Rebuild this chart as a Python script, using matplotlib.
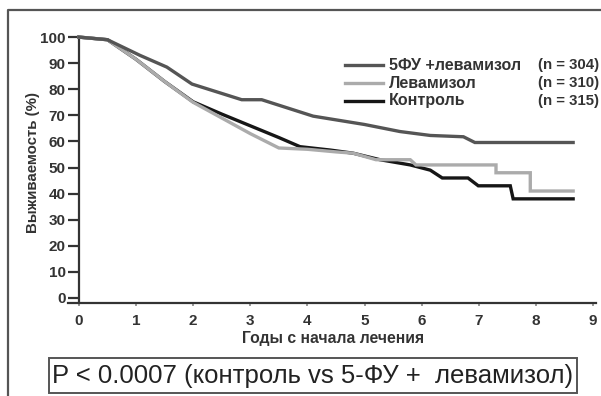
import matplotlib
matplotlib.use("Agg")
import matplotlib.pyplot as plt
from matplotlib.lines import Line2D
from matplotlib.patches import Rectangle

plt.rcParams['font.family'] = ['Liberation Sans', 'DejaVu Sans']

# Data (years, survival %)
fu_x = [0, 0.5, 1.07, 1.54, 1.98, 2.85, 3.2, 4.1, 5.0, 5.62, 6.15, 6.73, 6.93, 8.65]
fu_y = [100, 99, 93, 88.5, 82, 76, 76, 69.7, 66.5, 63.8, 62.3, 61.8, 59.6, 59.6]

lev_x = [0, 0.5, 1.0, 1.5, 2.0, 2.5, 3.0, 3.5, 4.0, 4.5, 4.8, 5.2, 5.8, 5.9, 7.3, 7.3, 7.9, 7.9, 8.65]
lev_y = [100, 99, 91.5, 83, 75, 69, 63, 57.5, 57, 56, 55.5, 53, 53, 51, 51, 48, 48, 41, 41]

ctl_x = [0, 0.5, 1.0, 1.5, 2.0, 2.5, 3.0, 3.5, 3.87, 4.4, 4.8, 5.27, 5.8, 6.15, 6.36, 6.81, 6.99, 7.55, 7.6, 8.65]
ctl_y = [100, 99, 91.5, 83, 75.2, 70.5, 66, 61.5, 58, 56.7, 55.5, 53, 51, 49, 46, 46, 43, 43, 38, 38]

series_names = ["5ФУ +левамизол", "Левамизол", "Контроль"]
series_n = ["(n = 304)", "(n = 310)", "(n = 315)"]
colors = ["#555555", "#ababab", "#161616"]

xticks = list(range(0, 10))
yticks = list(range(0, 101, 10))

fig = plt.figure(figsize=(6.01, 3.96), dpi=100)
W, H = 601, 396
ax = fig.add_axes([68 / W, 1 - 303.2 / H, (596 - 68) / W, (303.2 - 35.8) / H])

ax.plot(ctl_x, ctl_y, color=colors[2], lw=2.4, solid_joinstyle='miter', clip_on=False, zorder=3)
ax.plot(lev_x, lev_y, color=colors[1], lw=2.4, solid_joinstyle='miter', clip_on=False, zorder=4)
ax.plot(fu_x, fu_y, color=colors[0], lw=2.4, solid_joinstyle='miter', clip_on=False, zorder=5)

ax.set_xlim(-0.19, 9.05)
ax.set_ylim(-2, 100.5)
ax.spines['top'].set_visible(False)
ax.spines['right'].set_visible(False)
ax.spines['left'].set_position(('data', 0))
for s in ['left', 'bottom']:
    ax.spines[s].set_color('#333333')
    ax.spines[s].set_linewidth(1.6)
ax.spines['left'].set_bounds(-2, 99)

ax.set_xticks(xticks)
ax.set_yticks(yticks)
ax.tick_params(axis='y', direction='out', length=8, width=1.6, color='#333333',
               labelsize=11, labelcolor='#333333', pad=1.5)
ax.tick_params(axis='x', direction='out', length=2.5, width=1.2, color='#888888',
               labelsize=11, labelcolor='#333333', pad=5)
for lab in ax.get_xticklabels() + ax.get_yticklabels():
    lab.set_fontweight('bold')

fig.text(33 / W, 1 - 163 / H, "Выживаемость (%)", rotation=90, ha='center', va='center',
         fontsize=10.8, fontweight='bold', color='#333333')
fig.text(333 / W, 1 - 338 / H, "Годы с начала лечения", ha='center', va='center',
         fontsize=11.3, fontweight='bold', color='#333333')

# legend
rows_y = [65, 83, 101]
for name, n, c, ry in zip(series_names, series_n, colors, rows_y):
    fig.add_artist(Line2D([345 / W, 383 / W], [1 - ry / H, 1 - ry / H], color=c, lw=2.4,
                          transform=fig.transFigure))
    fig.text(389 / W, 1 - ry / H, name, ha='left', va='center', fontsize=11.5,
             fontweight='bold', color='#333333')
    fig.text(538 / W, 1 - ry / H, n, ha='left', va='center', fontsize=10.8,
             fontweight='bold', color='#333333')

# outer frame (top and left edges)
fig.add_artist(Line2D([8 / W, 8 / W, 1.0], [0, 1 - 10 / H, 1 - 10 / H], color='#555555', lw=1.6,
                      transform=fig.transFigure))

# P-value box
fig.add_artist(Rectangle((49 / W, 1 - 393 / H), (577 - 49) / W, (393 - 358) / H, fill=False,
                         edgecolor='#555555', lw=1.4, transform=fig.transFigure))
fig.text(313 / W, 1 - 376 / H, "P < 0.0007 (контроль vs 5-ФУ +  левамизол)", ha='center',
         va='center', fontsize=18.5, color='#222222')

fig.savefig("out.png", dpi=100)
